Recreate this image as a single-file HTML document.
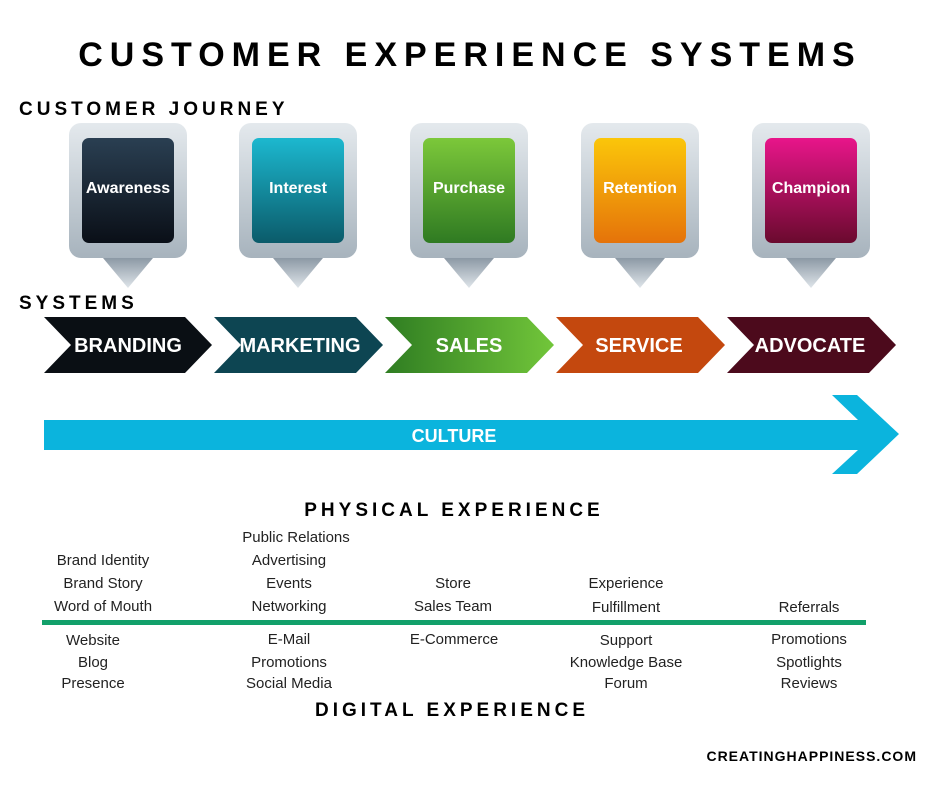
<!DOCTYPE html>
<html><head><meta charset="utf-8"><style>
body{margin:0;background:#fff;}
svg text{font-family:"Liberation Sans",sans-serif;}
</style></head><body>
<svg width="940" height="788" viewBox="0 0 940 788" xmlns="http://www.w3.org/2000/svg">
<defs>
<linearGradient id="pin" x1="0" y1="0" x2="0" y2="1"><stop offset="0" stop-color="#e4e9ed"/><stop offset="1" stop-color="#a7b3bd"/></linearGradient>
<linearGradient id="tri" x1="0" y1="0" x2="0" y2="1"><stop offset="0" stop-color="#8c99a5"/><stop offset="1" stop-color="#dfe5ea"/></linearGradient>
<linearGradient id="g1" x1="0" y1="0" x2="0" y2="1"><stop offset="0" stop-color="#2a3f52"/><stop offset="1" stop-color="#0a0f17"/></linearGradient>
<linearGradient id="g2" x1="0" y1="0" x2="0" y2="1"><stop offset="0" stop-color="#1cb8cf"/><stop offset="1" stop-color="#0b5b6a"/></linearGradient>
<linearGradient id="g3" x1="0" y1="0" x2="0" y2="1"><stop offset="0" stop-color="#7cc83a"/><stop offset="1" stop-color="#2f7a22"/></linearGradient>
<linearGradient id="g4" x1="0" y1="0" x2="0" y2="1"><stop offset="0" stop-color="#fbc60a"/><stop offset="1" stop-color="#e5730a"/></linearGradient>
<linearGradient id="g5" x1="0" y1="0" x2="0" y2="1"><stop offset="0" stop-color="#e8158a"/><stop offset="1" stop-color="#6a0a2e"/></linearGradient>
<linearGradient id="sales" x1="0" y1="0" x2="1" y2="0"><stop offset="0" stop-color="#2f7d22"/><stop offset="1" stop-color="#72c63a"/></linearGradient>
</defs>
<text x="470" y="66" text-anchor="middle" font-size="34" font-weight="bold" letter-spacing="7" fill="#000">CUSTOMER EXPERIENCE SYSTEMS</text>
<text x="19" y="115" font-size="19" font-weight="bold" letter-spacing="4" fill="#000">CUSTOMER JOURNEY</text>
<text x="19" y="309" font-size="19" font-weight="bold" letter-spacing="4" fill="#000">SYSTEMS</text>
<g font-size="16" font-weight="bold" fill="#fff" text-anchor="middle">
<g transform="translate(128,0)"><rect x="-59" y="123" width="118" height="135" rx="12" fill="url(#pin)"/><polygon points="-25,258 25,258 0,288" fill="url(#tri)"/><rect x="-46" y="138" width="92" height="105" rx="7" fill="url(#g1)"/><text y="193">Awareness</text></g>
<g transform="translate(298,0)"><rect x="-59" y="123" width="118" height="135" rx="12" fill="url(#pin)"/><polygon points="-25,258 25,258 0,288" fill="url(#tri)"/><rect x="-46" y="138" width="92" height="105" rx="7" fill="url(#g2)"/><text y="193">Interest</text></g>
<g transform="translate(469,0)"><rect x="-59" y="123" width="118" height="135" rx="12" fill="url(#pin)"/><polygon points="-25,258 25,258 0,288" fill="url(#tri)"/><rect x="-46" y="138" width="92" height="105" rx="7" fill="url(#g3)"/><text y="193">Purchase</text></g>
<g transform="translate(640,0)"><rect x="-59" y="123" width="118" height="135" rx="12" fill="url(#pin)"/><polygon points="-25,258 25,258 0,288" fill="url(#tri)"/><rect x="-46" y="138" width="92" height="105" rx="7" fill="url(#g4)"/><text y="193">Retention</text></g>
<g transform="translate(811,0)"><rect x="-59" y="123" width="118" height="135" rx="12" fill="url(#pin)"/><polygon points="-25,258 25,258 0,288" fill="url(#tri)"/><rect x="-46" y="138" width="92" height="105" rx="7" fill="url(#g5)"/><text y="193">Champion</text></g>
</g>
<g font-size="20" font-weight="bold" fill="#fff" text-anchor="middle">
<polygon points="44,317 185,317 212,345 185,373 44,373 71,345" fill="#0a0f14"/><text x="128" y="352">BRANDING</text>
<polygon points="214,317 356,317 383,345 356,373 214,373 241,345" fill="#0d4552"/><text x="300" y="352">MARKETING</text>
<polygon points="385,317 527,317 554,345 527,373 385,373 412,345" fill="url(#sales)"/><text x="469" y="352">SALES</text>
<polygon points="556,317 698,317 725,345 698,373 556,373 583,345" fill="#c4480e"/><text x="639" y="352">SERVICE</text>
<polygon points="727,317 869,317 896,345 869,373 727,373 754,345" fill="#4c0a1c"/><text x="810" y="352">ADVOCATE</text>
</g>
<polygon points="44,420 858,420 832,395 857,395 899,434 857,474 832,474 858,450 44,450" fill="#0bb4dd"/>
<text x="454" y="442" text-anchor="middle" font-size="18" font-weight="bold" fill="#fff">CULTURE</text>
<text x="454" y="516" text-anchor="middle" font-size="19" font-weight="bold" letter-spacing="4" fill="#000">PHYSICAL EXPERIENCE</text>
<text x="452" y="716" text-anchor="middle" font-size="19" font-weight="bold" letter-spacing="4" fill="#000">DIGITAL EXPERIENCE</text>
<rect x="42" y="620" width="824" height="5" fill="#12a06a"/>
<g font-size="15" fill="#222" text-anchor="middle">
<text x="103" y="565">Brand Identity</text><text x="103" y="588">Brand Story</text><text x="103" y="611">Word of Mouth</text>
<text x="296" y="542">Public Relations</text><text x="289" y="565">Advertising</text><text x="289" y="588">Events</text><text x="289" y="611">Networking</text>
<text x="453" y="588">Store</text><text x="453" y="611">Sales Team</text>
<text x="626" y="588">Experience</text><text x="626" y="612">Fulfillment</text>
<text x="809" y="612">Referrals</text>
<text x="93" y="645">Website</text><text x="93" y="667">Blog</text><text x="93" y="688">Presence</text>
<text x="289" y="644">E-Mail</text><text x="289" y="667">Promotions</text><text x="289" y="688">Social Media</text>
<text x="454" y="644">E-Commerce</text>
<text x="626" y="645">Support</text><text x="626" y="667">Knowledge Base</text><text x="626" y="688">Forum</text>
<text x="809" y="644">Promotions</text><text x="809" y="667">Spotlights</text><text x="809" y="688">Reviews</text>
</g>
<text x="917" y="761" text-anchor="end" font-size="14" font-weight="bold" letter-spacing="1" fill="#000">CREATINGHAPPINESS.COM</text>
</svg>
</body></html>
